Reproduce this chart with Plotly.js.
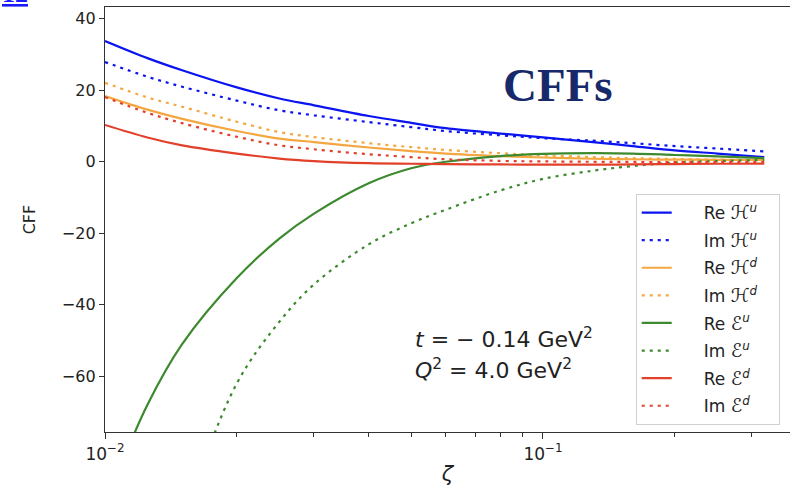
<!DOCTYPE html>
<html>
<head>
<meta charset="utf-8">
<script src="https://cdn.plot.ly/plotly-3.0.1.min.js"></script>
<style>html,body{margin:0;padding:0;background:#fff;overflow:hidden;}#plot{width:790px;height:486px;}</style>
</head>
<body>
<div id="plot"></div>
<script>
// zeta values (log-spaced samples)
var zeta = [0.01, 0.0125, 0.015, 0.02, 0.025, 0.03, 0.04, 0.05, 0.06, 0.08, 0.1, 0.13, 0.16, 0.2, 0.25, 0.32];

var reHu = [33.8, 29.0, 25.6, 20.8, 17.7, 15.8, 12.8, 10.9, 9.4, 7.9, 6.8, 5.5, 4.4, 3.2, 2.3, 1.3];
var imHu = [27.9, 23.8, 21.0, 17.1, 14.4, 13.0, 11.1, 9.7, 8.6, 7.4, 6.6, 5.9, 5.2, 4.4, 3.7, 2.9];
var reHd = [18.4, 14.6, 12.0, 8.6, 6.5, 5.5, 4.0, 3.0, 2.3, 1.6, 1.2, 0.85, 0.7, 0.6, 0.55, 0.5];
var imHd = [22.1, 18.0, 15.4, 11.2, 8.3, 6.9, 5.2, 4.1, 3.3, 2.4, 1.8, 1.3, 1.0, 0.8, 0.6, 0.5];
var reEu = [-96, -68, -51, -32.5, -21.5, -14.5, -6.0, -1.8, 0.0, 1.6, 2.2, 2.4, 2.3, 1.9, 1.5, 1.0];
var imEu = [-160, -125, -100, -62, -44.8, -34.3, -23.1, -17.2, -13.4, -8.0, -4.8, -2.5, -1.2, -0.2, 0.2, 0.5];
var reEd = [10.3, 6.8, 4.6, 2.3, 0.9, 0.2, -0.4, -0.55, -0.65, -0.75, -0.8, -0.8, -0.75, -0.65, -0.55, -0.5];
var imEd = [18.1, 13.7, 10.8, 7.0, 4.6, 3.5, 2.1, 1.3, 0.7, 0.25, 0.1, 0.0, -0.05, -0.1, -0.1, -0.1];

var H = '<span style="font-size:19px">ℋ</span>';
var E = '<span style="font-size:19px">ℰ</span>';
var pad = '\u00a0\u00a0\u00a0\u00a0\u00a0';
var tail = '\u00a0\u00a0\u00a0';
var names = [pad + 'Re ' + H + '<sup><i>u</i></sup>' + tail, pad + 'Im ' + H + '<sup><i>u</i></sup>' + tail,
             pad + 'Re ' + H + '<sup><i>d</i></sup>' + tail, pad + 'Im ' + H + '<sup><i>d</i></sup>' + tail,
             pad + 'Re ' + E + '<sup><i>u</i></sup>' + tail, pad + 'Im ' + E + '<sup><i>u</i></sup>' + tail,
             pad + 'Re ' + E + '<sup><i>d</i></sup>' + tail, pad + 'Im ' + E + '<sup><i>d</i></sup>' + tail];
var series = [reHu, imHu, reHd, imHd, reEu, imEu, reEd, imEd];
var colors = ['#0a14f0', '#0a14f0', '#f4a640', '#f4a640', '#3d8a2e', '#3d8a2e', '#e2402a', '#e2402a'];
var dashes = ['solid', '3px,5px', 'solid', '3px,5px', 'solid', '3px,5px', 'solid', '3px,5px'];

var traces = series.map(function(s, i) {
  return {
    x: zeta, y: s, type: 'scatter', mode: 'lines', name: names[i],
    legendgroup: 'g' + i,
    line: {color: colors[i], width: 2.2, dash: dashes[i], shape: 'spline', smoothing: 1}
  };
});

var layout = {
  width: 790, height: 486,
  margin: {l: 105, r: 0, t: 7, b: 54},
  paper_bgcolor: '#fff', plot_bgcolor: '#fff',
  font: {family: 'DejaVu Sans', color: '#222', size: 16},
  showlegend: true,
  legend: {
    x: 0.985, xanchor: 'right', y: 0.56, yanchor: 'top',
    bgcolor: '#fff', bordercolor: '#d0d0d0', borderwidth: 1,
    font: {family: 'DejaVu Sans', size: 17, color: '#222'},
    tracegroupgap: 2.5
  },
  xaxis: {
    type: 'log', range: [-2, -0.436],
    showgrid: false, zeroline: false,
    showline: true, linecolor: '#333', linewidth: 1.2, mirror: true,
    ticks: 'outside', ticklen: 6, tickcolor: '#333',
    tickmode: 'array', tickvals: [0.01, 0.1], ticktext: ['10<sup>−2</sup>', '10<sup>−1</sup>'],
    tickfont: {size: 17},
    minor: {tickmode: 'array', tickvals: [0.02, 0.03, 0.04, 0.05, 0.06, 0.07, 0.08, 0.09, 0.2, 0.3], ticks: 'outside', ticklen: 3.5, tickcolor: '#333', showgrid: false},
    title: {text: '<i>ζ</i>', font: {size: 21}, standoff: 6}
  },
  yaxis: {
    range: [-75.6, 43.3],
    showgrid: false, zeroline: false,
    showline: true, linecolor: '#333', linewidth: 1.2, mirror: false,
    ticks: 'outside', ticklen: 5, tickcolor: '#333',
    tickmode: 'array', tickvals: [-60, -40, -20, 0, 20, 40],
    tickfont: {size: 16},
    title: {text: 'CFF', font: {size: 16}, standoff: 22}
  },
  annotations: [
    {xref: 'paper', yref: 'paper', x: 0.449, y: 0.221, xanchor: 'left', yanchor: 'middle', showarrow: false,
     text: '<i>t</i> = − 0.14 GeV<sup>2</sup>', font: {size: 22, family: 'DejaVu Sans', color: '#222'}},
    {xref: 'paper', yref: 'paper', x: 0.449, y: 0.148, xanchor: 'left', yanchor: 'middle', showarrow: false,
     text: '<i>Q</i><sup>2</sup> = 4.0 GeV<sup>2</sup>', font: {size: 22, family: 'DejaVu Sans', color: '#222'}},
    {xref: 'paper', yref: 'paper', x: 0.662, y: 0.816, xanchor: 'center', yanchor: 'middle', showarrow: false,
     text: '<b>CFFs</b>', font: {size: 47, family: 'Liberation Serif', color: '#17296b'}},
    {xref: 'paper', yref: 'paper', x: -0.153, y: 1.0, xanchor: 'left', yanchor: 'bottom', yshift: -3, showarrow: false,
     text: '<b><u>12</u></b>', font: {size: 26, family: 'Liberation Serif', color: '#1a1aff'}}
  ]
};

Plotly.newPlot('plot', traces, layout, {displayModeBar: false, staticPlot: true});
</script>
</body>
</html>
